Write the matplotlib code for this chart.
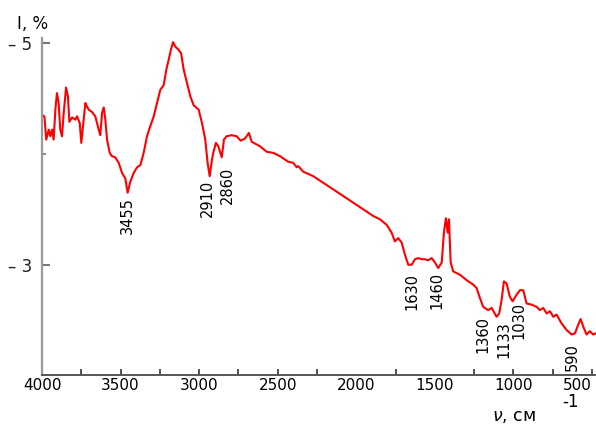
import numpy as np
import matplotlib
matplotlib.use("Agg")
import matplotlib.pyplot as plt
from matplotlib.ticker import FixedLocator

# IR spectrum, wavenumber (cm-1) vs I (axis shown inverted, -5 on top)
wavenumber = [4000, 3985, 3973, 3957, 3947, 3936, 3926, 3915, 3905, 3894,
              3884, 3873, 3862, 3847, 3835, 3826, 3809, 3788, 3777, 3760,
              3750, 3739, 3724, 3714, 3703, 3682, 3661, 3639, 3629, 3618,
              3607, 3597, 3586, 3569, 3555, 3534, 3512, 3491, 3470, 3455,
              3438, 3416, 3395, 3374, 3353, 3332, 3311, 3289, 3268, 3247,
              3226, 3209, 3194, 3180, 3166, 3152, 3130, 3115, 3098, 3077,
              3056, 3035, 3003, 2982, 2961, 2946, 2933, 2918, 2910, 2893,
              2878, 2856, 2842, 2825, 2793, 2761, 2736, 2708, 2683, 2665,
              2613, 2570, 2528, 2485, 2433, 2401, 2379, 2369, 2337, 2274,
              2210, 2146, 2083, 2019, 1955, 1892, 1849, 1806, 1775, 1754,
              1733, 1711, 1690, 1669, 1647, 1626, 1605, 1584, 1563, 1542,
              1520, 1499, 1478, 1456, 1442, 1429, 1418, 1410, 1399, 1383,
              1340, 1297, 1255, 1234, 1213, 1192, 1160, 1138, 1107, 1090,
              1075, 1060, 1043, 1022, 1005, 979, 958, 937, 916, 884,
              852, 831, 810, 788, 767, 746, 725, 693, 661, 629,
              608, 587, 572, 555, 534, 513, 492, 475]
intensity = [-4.35, -4.34, -4.13, -4.22, -4.16, -4.22, -4.13, -4.40, -4.55, -4.46,
             -4.22, -4.16, -4.37, -4.60, -4.52, -4.29, -4.33, -4.31, -4.34, -4.28,
             -4.10, -4.25, -4.46, -4.43, -4.40, -4.38, -4.34, -4.22, -4.17, -4.37,
             -4.42, -4.31, -4.13, -4.01, -3.98, -3.97, -3.92, -3.83, -3.78, -3.65,
             -3.75, -3.83, -3.88, -3.90, -4.01, -4.16, -4.25, -4.34, -4.46, -4.58,
             -4.62, -4.76, -4.85, -4.94, -5.01, -4.97, -4.94, -4.91, -4.76, -4.64,
             -4.52, -4.44, -4.40, -4.28, -4.13, -3.92, -3.80, -3.95, -4.01, -4.10,
             -4.07, -3.97, -4.13, -4.16, -4.17, -4.16, -4.12, -4.14, -4.19, -4.11,
             -4.07, -4.02, -4.01, -3.98, -3.93, -3.92, -3.88, -3.89, -3.84, -3.80,
             -3.74, -3.68, -3.62, -3.56, -3.50, -3.44, -3.41, -3.36, -3.29, -3.21,
             -3.24, -3.20, -3.09, -3.00, -3.00, -3.05, -3.06, -3.05, -3.05, -3.04,
             -3.06, -3.02, -2.97, -3.02, -3.29, -3.42, -3.29, -3.41, -3.02, -2.94,
             -2.91, -2.86, -2.82, -2.79, -2.70, -2.62, -2.59, -2.61, -2.53, -2.56,
             -2.68, -2.85, -2.83, -2.71, -2.67, -2.73, -2.77, -2.77, -2.65, -2.64,
             -2.62, -2.59, -2.61, -2.56, -2.58, -2.53, -2.55, -2.47, -2.41, -2.37,
             -2.38, -2.46, -2.51, -2.44, -2.37, -2.40, -2.37, -2.38]

# peak labels and where they sit
peak_labels = ["3455", "2910", "2860", "1630", "1460", "1360", "1133", "1030", "590"]
peak_x = [3459, 2950, 2823, 1645, 1486, 1194, 1060, 964, 627]
peak_y = [-3.44, -3.60, -3.72, -2.76, -2.77, -2.37, -2.32, -2.50, -2.17]

xtick_vals = [4000, 3500, 3000, 2500, 2000, 1500, 1000, 500]
xtick_minor = [3750, 3250, 2750, 2250, 1750, 1250, 750]

fig = plt.figure(figsize=(5.96, 4.25), dpi=100)
ax = fig.add_axes([0.0705, 0.1165, 0.9295, 0.7935])

ax.plot(wavenumber, intensity, color="#ff0000", linewidth=1.5)

ax.set_xlim(4000, 474)
ax.set_ylim(-2.0, -5.045)

for lab, x, y in zip(peak_labels, peak_x, peak_y):
    ax.text(x, y, lab, rotation=90, ha="center", va="center", fontsize=10.5)

ax.spines["top"].set_visible(False)
ax.spines["right"].set_visible(False)
ax.spines["left"].set_color("#999999")
ax.spines["left"].set_linewidth(1.6)
ax.spines["bottom"].set_color("#555555")
ax.spines["bottom"].set_linewidth(1.4)

ax.xaxis.set_major_locator(FixedLocator(xtick_vals))
ax.xaxis.set_minor_locator(FixedLocator(xtick_minor))
ax.set_xticklabels([str(v) for v in xtick_vals])
ax.tick_params(axis="x", which="both", direction="in", length=4, width=1.2,
               colors="#333333", labelsize=11, pad=1.5, labelcolor="black")
# the scan shows no tick marks at 2000 and 1500
for t in ax.xaxis.get_major_ticks()[4:6]:
    t.tick1line.set_visible(False)
# last label sits against the right edge
ax.get_xticklabels()[-1].set_horizontalalignment("right")

ax.yaxis.set_major_locator(FixedLocator([-5, -3]))
ax.yaxis.set_minor_locator(FixedLocator([-4]))
ax.set_yticklabels(["– 5", "– 3"])
ax.tick_params(axis="y", which="major", direction="in", length=6, width=1.5,
               colors="#777777", labelsize=12, pad=7, labelcolor="#222222")
ax.tick_params(axis="y", which="minor", direction="in", length=3, width=1.2,
               colors="#777777")

fig.text(17 / 596, 1 - 29 / 425, "I, %", fontsize=12, ha="left", va="baseline")
fig.text(492 / 596, 1 - 421 / 425, r"$\nu$, см", fontsize=12.5, ha="left", va="baseline")
fig.text(562 / 596, 1 - 407 / 425, "-1", fontsize=12, ha="left", va="baseline")

fig.savefig("out.png", dpi=100)
